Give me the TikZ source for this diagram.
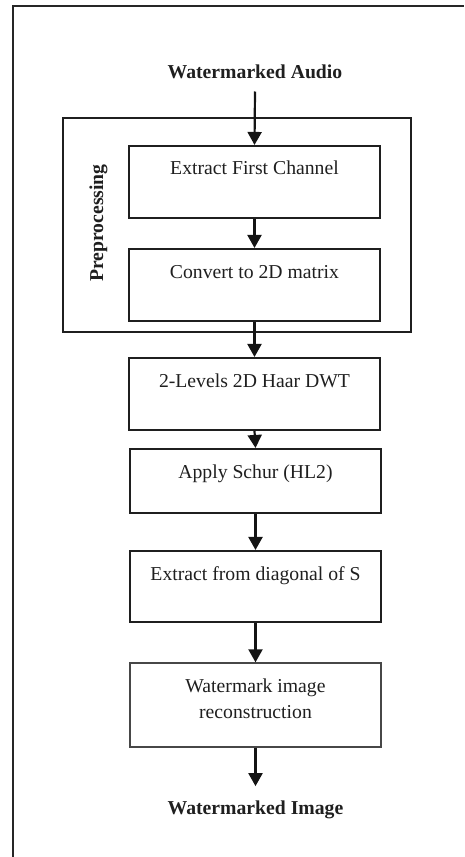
\documentclass[tikz,border=0pt]{standalone}
\usepackage{fontspec}
\setmainfont{Liberation Serif}
\usetikzlibrary{arrows.meta}

\begin{document}
\begin{tikzpicture}[x=1pt,y=-1pt,
  ink/.style={draw=black!88},
  stepbox/.style={ink,line width=2.1pt,rectangle,inner sep=0pt,
    minimum width=251pt},
  lightbox/.style={draw=black!72,line width=1.4pt,rectangle,inner sep=0pt,
    minimum width=251pt},
  lbl/.style={anchor=base,inner sep=0pt,font=\fontsize{19.7}{26}\selectfont,
    text=black!88,align=center},
  ttl/.style={lbl,font=\fontsize{19.7}{26}\selectfont\bfseries},
  arr/.style={draw=black!92,line width=2.2pt,
    -{Triangle[width=14pt,length=13pt]}}
]
\useasboundingbox (0,0) rectangle (464,857);

% open outer frame (left and top edges only)
\draw[draw=black!85,line width=2.1pt] (12.8,857) -- (12.8,5.8) -- (464,5.8);

% preprocessing group
\draw[ink,line width=2.1pt] (63,118) rectangle (411,332);
\node[ttl,rotate=90] (pre) at (103,223) {Preprocessing};

% processing steps
\node[stepbox,minimum height=72pt] (b1) at (254.5,182) {};
\node[stepbox,minimum height=72pt] (b2) at (254.5,285) {};
\node[stepbox,minimum height=72pt] (b3) at (254.5,394) {};
\node[stepbox,minimum height=64pt] (b4) at (255.5,481) {};
\node[stepbox,minimum height=71pt] (b5) at (255.5,586.5) {};
\node[lightbox,minimum height=84pt] (b6) at (255.5,705) {};

\node[lbl] (t1) at (254.5,174) {Extract First Channel};
\node[lbl] (t2) at (254.5,278) {Convert to 2D matrix};
\node[lbl] (t3) at (254.5,387) {2-Levels 2D Haar DWT};
\node[lbl] (t4) at (255.5,478) {Apply Schur (HL2)};
\node[lbl] (t5) at (255.5,580) {Extract from diagonal of S};
\node[lbl] (t6) at (255.5,718) {Watermark image\\reconstruction};

% input and output
\node[ttl] (audio) at (255,78) {Watermarked Audio};
\node[ttl] (img) at (255.5,814) {Watermarked Image};

% flow
\draw[arr] ([yshift=-13pt]audio.south) -- (b1.north);
\draw[arr] (b1.south) -- (b2.north);
\draw[arr] (b2.south) -- (b3.north);
\draw[arr] (b3.south) -- (b4.north);
\draw[arr] (b4.south) -- (b5.north);
\draw[arr] (b5.south) -- (b6.north);
\draw[arr] (b6.south) -- ([yshift=14pt]img.north);
\end{tikzpicture}
\end{document}
